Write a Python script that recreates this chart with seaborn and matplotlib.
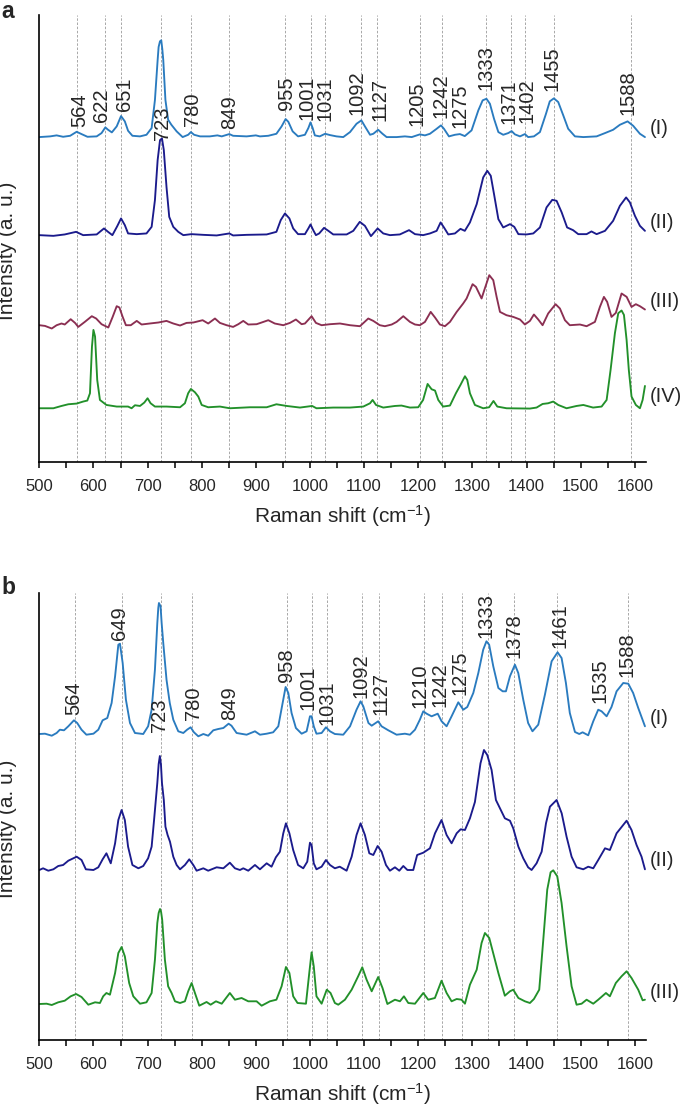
import matplotlib
matplotlib.use('Agg')
import matplotlib.pyplot as plt
import pandas as pd
import seaborn as sns
from matplotlib.ticker import MultipleLocator

# Raman spectra: (shift in cm-1, intensity above own baseline, a.u.)
A_I = [(500, 0), (520, 0.7), (532, 1.7), (544, 0.3), (557, 1.3), (569, 5.3), (578, 3), (589, 0.3),
       (606, 0.7), (615, 4), (622, 9.7), (627, 7.3), (634, 4.7), (643, 10.7), (651, 21), (658, 15.7),
       (664, 6.3), (672, 1.3), (686, 0.7), (698, 2.3), (707.5, 9), (713.6, 37), (718.6, 77), (720.4, 90),
       (722.9, 95.7), (725.3, 96.7), (727.2, 88), (729, 77), (733, 37), (738, 17.3), (744, 12.3),
       (753.7, 5.7), (764.8, 0), (775, 2.3),
       (780, 5), (786, 2.3), (797, 0.7), (815, 0.7), (829, 1.7), (837, 0.7), (851, 3), (858, 1.3),
       (883, 0.7), (900, 1.7), (907.6, 0.7), (923, 1.3), (938, 3.3), (947.6, 10.7), (955, 18), (960, 15.3),
       (968, 5.7), (978, 0.7), (990.7, 2.3), (997, 9), (1001, 14.7), (1005, 9), (1009, 1.7), (1018, 0.7),
       (1028, 3.3), (1037, 2), (1049, 0.7), (1061.5, 0), (1074, 5), (1086, 13.3), (1095, 16.7), (1101.5, 10.7),
       (1111, 2.3), (1117, 3.3), (1126, 7.3), (1134, 3.3), (1141.6, 0), (1160, 0), (1175.4, 0.7), (1188, 0),
       (1203, 2.7), (1212.4, 1.7), (1221.6, 3.3), (1234, 8.3), (1242, 11.7), (1247.5, 8.3), (1256.7, 0.7),
       (1267.8, 2.3), (1277, 3), (1286, 1), (1298.5, 6.7), (1311, 26.7), (1319, 36.7), (1326, 38.3),
       (1332.4, 33.3), (1340, 18.3), (1348, 5), (1357, 2.3), (1366.3, 4), (1372.5, 6), (1378.6, 2.7),
       (1388, 0.7), (1397, 3), (1403, 0), (1413.7, 0.7), (1424.8, 5), (1436, 23.3), (1443, 35.7),
       (1450.6, 38.7), (1458.6, 35), (1467.9, 21.7), (1477, 8.3), (1489.5, 0.7), (1505, 0), (1529.5, 0.7),
       (1545, 4), (1560, 7.3), (1572.5, 12.3), (1586.7, 15.7), (1597, 11.3), (1609.5, 3.3), (1618.8, 0)]

A_II = [(500, 0), (526, -0.7), (547, 0.7), (568, 3.3), (581, 0), (606, 0.7), (619.5, 6.7), (627, 3.3),
        (635, 0), (644, 9), (651, 16.7), (658, 10), (664, 1.7), (680, 1), (698, 1.7), (707.5, 8.3),
        (713.6, 35), (718.6, 75), (723, 95), (726.6, 96.7), (730, 85), (735, 48), (740, 18.3), (747.5, 8.3),
        (756.7, 3.3), (766, 0), (781, 1), (803, 0.3), (827.6, -0.3), (851, 1.7), (858, -0.3), (883, 0.3),
        (920, 0.7), (938, 3.3), (946, 15), (953.8, 21.7), (962, 16.7), (969, 6.7), (978, 1), (990.7, 1),
        (997, 6.7), (1001, 10.7), (1006, 5), (1011, 0), (1017, 1.7), (1026, 7.3), (1034, 4.3), (1043, 0.7),
        (1067.7, 0.7), (1080, 4.3), (1092, 13.3), (1101.5, 9.3), (1112.6, -1), (1125, 6.7), (1135.4, 1.7),
        (1147.7, 0), (1166, 0.7), (1183, 5), (1194, 1), (1209, 0), (1221.6, 1.7), (1234, 4.3), (1241.3, 12.7),
        (1247.5, 7.7), (1255.5, 0.7), (1267.8, 1.7), (1278, 6.3), (1286, 4.3), (1295.5, 12.7), (1308, 31),
        (1320, 57.7), (1327.5, 64.3), (1334, 59.3), (1340, 41), (1348, 16), (1357, 7.7), (1369.5, 11),
        (1377.4, 8.3), (1385, 1), (1400, 0.7), (1412.5, 1.7), (1424.8, 7.7), (1437, 27.7), (1447.6, 35.3),
        (1455.6, 34.3), (1465, 22.7), (1475, 7.7), (1486, 5), (1495.6, 1), (1511, 1), (1520, 3.7),
        (1529.5, 1), (1545, 4.3), (1560, 14.3), (1572.5, 29.3), (1584, 37.7), (1591, 32.7), (1600.3, 19.3),
        (1609.5, 9.3), (1618.8, 4.3)]

A_III = [(500, 0), (510.5, -0.7), (523, -3.3), (532, 0), (541, 1.7), (547, 0.7), (558, 6), (566, 2.3),
         (572, -1.7), (584, 3.3), (597, 9), (605, 6.7), (615, 1), (627.5, -2.3), (635.5, 8.3), (643, 19),
         (648, 17.7), (654, 8.3), (660, 0), (669, 0), (680, 4.3), (689, 0.7), (704, 1.7), (720, 2.7),
         (735, 4.3), (747.5, 1.7), (760, -0.3), (772, 2.3), (784.5, 2.7), (801.7, 5), (812, 1.7), (824.5, 6.7),
         (833.7, 2.3), (846, 0), (858, -1.7), (867.6, 1), (876.8, 4.3), (886, 0.7), (901.4, 1), (910.7, 2.7),
         (923, 5), (935, 1.7), (950.7, 0), (963, 2.3), (974, 5.7), (984.6, 1), (990.7, 1.7), (1003, 9),
         (1011, 2.3), (1021.5, 0), (1037, 1), (1055.4, 1.7), (1074, 0), (1092.3, -1), (1107.7, 6.7),
         (1117, 4.3), (1129, 0), (1138.5, -1), (1151, 0.7), (1160, 3.3), (1172.4, 9), (1184.7, 3.3),
         (1194, 0.7), (1203, 0), (1212.4, 3.3), (1223, 13.3), (1231, 7.7), (1240, 0.7), (1249.3, -1),
         (1258.6, 3.3), (1271, 13.3), (1283, 21.7), (1289.3, 26.7), (1300.4, 41), (1306.6, 38.3),
         (1317, 26.7), (1323, 36.7), (1331.2, 50), (1338.6, 45), (1344.8, 28.3), (1351, 13.3), (1363, 10),
         (1375.5, 8.3), (1388, 5.7), (1397, 0.7), (1406.3, 4.3), (1413.7, 10.7), (1421.7, 5.7), (1429.7, 0),
         (1440, 11.7), (1453.7, 21), (1461.7, 16.7), (1471, 5), (1480, 0), (1498.7, 0.7), (1511, -1),
         (1526.4, 3.3), (1535.6, 18.3), (1543, 28.3), (1549, 23.3), (1557, 8.3), (1565, 12.3), (1575.6, 31.7),
         (1585, 28.3), (1594, 18.3), (1602, 21), (1609.5, 19), (1618.8, 15.7)]

A_IV = [(500, 0), (526, 0), (541, 2.3), (553.6, 4), (569, 4.7), (581, 6.7), (588.7, 7.7), (593.6, 15),
        (597.3, 61.7), (600, 78.3), (603, 71.7), (607, 28.3), (612, 8.3), (624, 3.3), (643, 1.7), (664, 1.7),
        (670.5, 0), (676.7, 3), (686, 2.3), (694, 5.7), (700, 10), (705.6, 5), (713.6, 1.7), (735, 1.7),
        (760, 1), (769, 5), (775, 15), (780, 19.3), (787.5, 16), (793.7, 11.7), (800, 3.3), (812, 1),
        (833.7, 1.7), (852, 0), (889, 1), (920, 1), (938, 4), (957, 2.3), (981.5, 0.7), (1004, 2.3),
        (1012, 0), (1043, 0.7), (1074, 0.7), (1098.5, 1.7), (1111, 5), (1115.7, 8.3), (1122, 3.3),
        (1135.4, 0.7), (1157, 2.3), (1169, 2.7), (1184.7, 0.7), (1200, 1), (1209, 8.3), (1217.3, 24.3),
        (1224.7, 19), (1231, 17.7), (1237, 8.3), (1246, 1.7), (1258.6, 2.7), (1269.6, 15), (1278, 23.3),
        (1286.3, 32), (1290.6, 28.3), (1295.5, 15), (1304.7, 3.3), (1320, 0), (1331, 1), (1339, 7.3),
        (1346, 1.7), (1363.2, 0), (1406.3, -0.3), (1418.6, 0.7), (1429.7, 4.3), (1440, 5), (1449.4, 6.7),
        (1458.6, 3.3), (1474, 0), (1492.5, 2.3), (1505, 3.3), (1523, 0.7), (1538.7, 1.7), (1548, 8.3),
        (1555.3, 38.3), (1563.3, 75), (1569.5, 95), (1575.6, 97.7), (1580, 93.3), (1584.9, 68.3),
        (1589, 38.3), (1594, 11.7), (1602, 3.3), (1609.5, 0), (1614.5, 8.3), (1618.8, 22.3)]

B_I = [(500, 0), (510.5, 0.3), (523, -1.7), (532, 1), (538, 4.3), (545.6, 3.7), (553.6, 7.7), (564, 13.7),
       (570, 11), (578, 4.3), (587, -0.7), (600, 0.3), (609, 4.3), (617, 13.7), (625.6, 16), (633.6, 31),
       (640, 57.7), (646, 89.3), (649, 90.3), (654, 71), (660, 34.3), (667.5, 11), (676.7, 1), (692, 0),
       (701, 7.7), (707.5, 24.3), (713.6, 64.3), (718, 111), (719.8, 126), (721, 131), (724, 127.7),
       (726, 111), (729, 91),
       (735, 54.3), (741, 31), (747.5, 14.3), (756.7, 2.7), (766, 1), (773, 4.3), (779.5, 6.7), (785.7, 1.7),
       (793.7, -2.3), (803, 0), (812, -1.7), (821.4, 3.7), (830.6, 5), (840, 6), (849.7, 10.3), (855, 8.3),
       (864.5, 1), (883, -0.7), (898.4, 2.7), (907.6, -0.7), (920, 0.3), (932, 1.7), (941.5, 7.7),
       (949.5, 31), (955, 47), (960, 41), (966, 21), (974, 6), (984.6, 0.3), (993.8, 2.7), (1000, 17.7),
       (1003, 17.7), (1007, 7.7), (1012, 0.3), (1021.5, 1), (1029.5, 6.7), (1037, 2.7), (1046, 0),
       (1061.5, -0.7), (1074, 7.7), (1086, 24.3), (1093.5, 32.7), (1098.5, 27.7), (1108, 11), (1114, 8.3),
       (1126, 12.7), (1132.3, 7.7), (1144.7, 3.7), (1160, -0.7), (1175.4, 0.3), (1184.7, -0.7), (1194, 4.3),
       (1203, 14.3), (1209.3, 22.7), (1215.5, 20.3), (1224.7, 17.7), (1236, 20.3), (1243.2, 12.7),
       (1252.4, 7.7), (1261.6, 17.7), (1274, 31.7), (1283.2, 24.3), (1290.6, 27), (1301.7, 41), (1311, 61),
       (1320, 84.3), (1326, 92.7), (1331, 89.3), (1338.6, 67.7), (1348, 46), (1356, 42.7), (1362, 42.7),
       (1369.4, 57.7), (1378.6, 69.3), (1384.8, 61), (1394, 34.3), (1403, 11), (1411, 2.7), (1421.7, 9.3),
       (1434, 39.3), (1446.4, 72.7), (1457.4, 81.7), (1464.8, 76), (1472.8, 51), (1480, 21), (1489.5, 2),
       (1497.5, 0), (1503.6, 1.7), (1514, -1.3), (1523.3, 12.7), (1532.5, 24.3), (1538.7, 22.7),
       (1548, 17.7), (1557, 27), (1566.4, 42.7), (1578.7, 51), (1588, 50.3), (1597, 41), (1606.4, 26),
       (1618.8, 7.7)]

B_II = [(500, 0), (507, 1.7), (516.6, -0.7), (526, 0.7), (535, 4), (544, 5), (553.6, 9.3), (563, 11.7),
        (569, 13.3), (578, 10), (586, 0.7), (600, 0), (609, 2.7), (617, 10.7), (624, 16.7), (632, 6.7),
        (640, 26.7), (646, 50), (652, 60), (658, 50), (664, 23.3), (672, 5), (683, 1.7), (692, 4),
        (701, 11.7), (707.5, 23.3), (712, 50), (718, 87), (720.5, 106), (722.7, 114), (724.8, 105),
        (726.6, 87), (730, 70), (733, 43.3),
        (737, 35), (741.4, 28.3), (747.5, 13.3), (753.7, 5), (760, 0.7), (769, 5), (777, 10.7), (784.5, 5),
        (790.6, -0.7), (803, 1.7), (812, -0.7), (827.6, 2.7), (840, 1.7), (852, 7.3), (861.4, 1.7),
        (870.7, 0), (876.8, 1.7), (886, -0.7), (898.4, 5), (907.6, 0.7), (920, 6.7), (929, 3.3), (937, 12.7),
        (944.5, 18.3), (950.7, 36.7), (955.6, 46.7), (962, 36.7), (969, 20), (978, 5), (987.6, 1.7),
        (995, 8.3), (1000, 27.3), (1003, 25), (1007, 6.7), (1012, 0.7), (1021.5, 3.3), (1029.5, 10),
        (1037, 5), (1046, 1.7), (1055, 3.3), (1067.7, -0.7), (1077, 13.3), (1086, 35), (1093.5, 46.7),
        (1101.5, 35), (1109.6, 16.7), (1117, 15), (1125, 24), (1132.3, 18.3), (1140.4, 5), (1147.7, -0.7),
        (1157, 2.7), (1165, -0.7), (1172.4, 4), (1180, 0), (1190.8, 0), (1198, 15), (1209.3, 17.3),
        (1221.6, 21.7), (1231, 36.7), (1243, 50), (1252.4, 35), (1261.6, 26.7), (1271, 36.7), (1278.3, 40.7),
        (1286.3, 40), (1295.5, 51.7), (1304.7, 68), (1315, 106.7), (1321.4, 120), (1327.5, 115),
        (1335.5, 100), (1343.5, 70), (1351, 61.7), (1360, 51.7), (1369.4, 49.3), (1375.5, 41.7),
        (1385, 23.3), (1394, 11.7), (1403, 2.7), (1409.4, 0), (1418.6, 6.7), (1428, 18.3), (1436, 46.7),
        (1443.3, 63.3), (1455.6, 70), (1465, 56.7), (1474, 33.3), (1483.3, 13.3), (1492.5, 2.7),
        (1504.8, 0.7), (1514, 3.3), (1523.3, 1.7), (1532.5, 10), (1545, 21.7), (1554, 20), (1566.4, 36.7),
        (1573.8, 41.7), (1584.9, 49.3), (1594, 40), (1603.3, 25), (1612.5, 13.3), (1618.8, 0.7)]

B_III = [(500, 0), (513.5, 0.3), (523, -1), (535, 1.7), (547, 3.3), (558, 7.7), (568, 10), (578, 7),
         (590.5, -0.7), (603, 1.7), (612, 1), (618, 7.7), (624, 11), (630.5, 9.3), (640, 31), (646, 51),
         (652, 57), (658, 47.7), (666, 21), (673.6, 7.7), (686, 0.3), (698, 1.7), (707.5, 11), (713.6, 44.3),
         (718, 81), (720.5, 91), (723, 95), (725, 92), (727, 84.3), (732, 44.3), (738, 17.7), (744.4, 11),
         (750.6, 2.7), (760, 1),
         (769, 2.7), (775, 12.7), (781.4, 21), (787.5, 11), (795.5, -1.7), (809, 2), (816.5, -0.7),
         (826.3, 2.7), (837, 0.3), (852, 11), (861.4, 4.3), (873.7, 6), (886, 2.7), (901.4, 2.7),
         (910.7, -1.7), (926, 2.7), (938, 4.3), (947.6, 17.7), (955.6, 37), (962, 31), (969, 7.7), (977, 1),
         (992.6, 0.3), (998.7, 31), (1003, 51.7), (1007, 37.7), (1012, 7.7), (1021.5, 0.3), (1031, 14.3),
         (1038, 11), (1046, 1), (1052.3, -0.7), (1064.6, 4.3), (1077, 14.3), (1089, 27.7), (1096.6, 36.7),
         (1104.6, 24.3), (1114, 12.7), (1126, 27), (1134, 16), (1143, 0), (1157, 4.3), (1166.2, 2.7),
         (1173.6, 7.7), (1181.6, 1), (1194, 0.3), (1209.3, 11), (1218.5, 4.3), (1230.8, 6), (1243, 23.3),
         (1252.4, 11), (1261.6, 2.7), (1271, 5), (1280, 4.3), (1286.3, 0.3), (1295.5, 19.3), (1308, 34.3),
         (1317, 61), (1323.2, 71), (1331.2, 66), (1340, 47.7), (1348, 31), (1360, 8.3), (1369.4, 12.7),
         (1375.5, 14.3), (1385, 6), (1397, 2.7), (1406.3, 1), (1413.7, 5), (1423.5, 14.3), (1431, 64.3),
         (1438.3, 114.3), (1444.5, 131.7), (1449.4, 133.7), (1456.8, 127.7), (1464.8, 101), (1474, 57.7),
         (1483.3, 17.7), (1492.5, -0.7), (1501.8, 0.3), (1511, 4.3), (1523.3, 0.3), (1532.5, 4.3),
         (1546.7, 11), (1554, 7.7), (1565, 21), (1575.6, 27.7), (1584.9, 32.7), (1594, 26), (1606.4, 14.3),
         (1614.5, 3.7), (1618.8, 4.3)]

# vertical stacking of the spectra (baseline levels)
A_OFFSETS = [325, 227, 137, 54]
B_OFFSETS = [306, 170, 36]

A_NAMES = ['(I)', '(II)', '(III)', '(IV)']
B_NAMES = ['(I)', '(II)', '(III)']

# assigned bands: label text, label x, label bottom height
A_PEAK_TEXT = ['564', '622', '651', '723', '780', '849', '955', '1001', '1031', '1092', '1127',
               '1205', '1242', '1275', '1333', '1371', '1402', '1455', '1588']
A_PEAK_X = [575, 615, 658, 728, 783, 852, 956, 995, 1028, 1086, 1129,
            1198, 1242, 1278, 1325, 1368, 1401, 1448, 1587]
A_PEAK_Y = [335, 340, 351, 322, 336, 333, 352, 342, 341, 347, 341,
            336, 344, 334, 372, 338, 339, 371, 347]
A_LINES = [570, 621, 651, 724, 780, 850, 954, 1001, 1028, 1094, 1124,
           1204, 1244, 1326, 1372, 1398, 1451, 1593]

B_PEAK_TEXT = ['564', '649', '723', '780', '849', '958', '1001', '1031', '1092', '1127',
               '1210', '1242', '1275', '1333', '1378', '1461', '1535', '1588']
B_PEAK_X = [564, 649, 722, 785, 852, 956, 997, 1032, 1095, 1132,
            1203, 1240, 1277, 1325, 1377, 1462, 1536, 1585]
B_PEAK_Y = [325, 400, 308, 320, 320, 358, 330, 315, 342, 325,
            332, 333, 345, 402, 382, 392, 337, 363]
B_LINES = [566, 652, 724, 783, 957, 1004, 1031, 1097, 1128, 1211,
           1244, 1280, 1329, 1377, 1456, 1588]

A_ROMAN_Y = [334, 240, 161, 66]
B_ROMAN_Y = [322, 180, 47]

A_COLORS = ['#2a7bbf', '#1b1b8c', '#8b2f52', '#22902a']
B_COLORS = ['#2a7bbf', '#1b1b8c', '#22902a']

sns.set_style('ticks')
plt.rcParams['font.family'] = ['Liberation Sans', 'DejaVu Sans']
plt.rcParams['mathtext.default'] = 'regular'


def draw_panel(ax, spectra, names, offsets, colors, lines, peak_text, peak_x, peak_y, roman_y):
    """Stacked spectra with dashed band markers and rotated labels"""
    for x in lines:
        ax.axvline(x, color='#9a9a9a', lw=0.6, ls=(0, (3, 2)), zorder=0)

    frames = []
    for name, spec, off in zip(names, spectra, offsets):
        df = pd.DataFrame(spec, columns=['shift', 'intensity'])
        df['intensity'] = df['intensity'] + off
        df['spectrum'] = name
        frames.append(df)
    data = pd.concat(frames, ignore_index=True)
    sns.lineplot(data=data, x='shift', y='intensity', hue='spectrum',
                 palette=dict(zip(names, colors)), estimator=None, sort=False,
                 legend=False, linewidth=1.35, ax=ax)

    for t, x, y in zip(peak_text, peak_x, peak_y):
        ax.text(x, y, t, rotation=90, ha='center', va='bottom', fontsize=14.5, zorder=5)
    for name, y in zip(names, roman_y):
        ax.text(1628, y, name, ha='left', va='center', fontsize=14.5, clip_on=False)

    ax.set_xlim(500, 1620)
    ax.set_ylim(0, 447)
    ax.set_yticks([])
    ax.xaxis.set_major_locator(MultipleLocator(100))
    ax.xaxis.set_minor_locator(MultipleLocator(50))
    ax.tick_params(axis='x', which='both', direction='out', length=4.5, width=1.1,
                   labelsize=12, pad=7.5, color='black')
    for side in ['top', 'right']:
        ax.spines[side].set_visible(False)
    for side in ['left', 'bottom']:
        ax.spines[side].set_linewidth(1.2)
        ax.spines[side].set_color('black')
    ax.set_xlabel('Raman shift (cm$^{-1}$)', fontsize=15)
    ax.xaxis.set_label_coords(0.5, -0.092)
    ax.set_ylabel('Intensity (a. u.)', fontsize=15)
    ax.yaxis.set_label_coords(-0.036, 0.472)


fig = plt.figure(figsize=(6.85, 11.1), dpi=100)
ax_a = fig.add_axes([39.3 / 685, 1 - 462.3 / 1110, 606.3 / 685, 447.3 / 1110])
ax_b = fig.add_axes([39.3 / 685, 1 - 1040 / 1110, 606.3 / 685, 447 / 1110])

draw_panel(ax_a, [A_I, A_II, A_III, A_IV], A_NAMES, A_OFFSETS, A_COLORS, A_LINES,
           A_PEAK_TEXT, A_PEAK_X, A_PEAK_Y, A_ROMAN_Y)
draw_panel(ax_b, [B_I, B_II, B_III], B_NAMES, B_OFFSETS, B_COLORS, B_LINES,
           B_PEAK_TEXT, B_PEAK_X, B_PEAK_Y, B_ROMAN_Y)

# panel letters
fig.text(1.7 / 685, 1 - 17.5 / 1110, 'a', fontsize=16.5, fontweight='bold', va='baseline', ha='left')
fig.text(1.7 / 685, 1 - 594 / 1110, 'b', fontsize=16.5, fontweight='bold', va='baseline', ha='left')

fig.savefig('out.png', dpi=100)
